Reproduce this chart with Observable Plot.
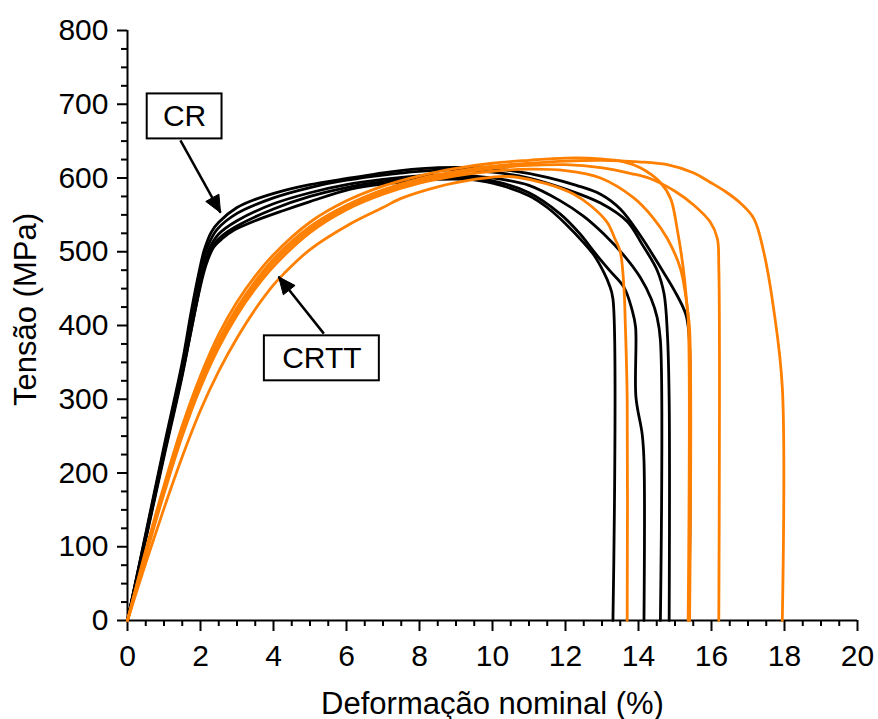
<!DOCTYPE html>
<html>
<head>
<meta charset="utf-8">
<script src="https://cdn.jsdelivr.net/npm/d3@7"></script>
<script src="https://cdn.jsdelivr.net/npm/@observablehq/plot@0.6"></script>
<style>
  body { margin: 0; background: #fff; }
</style>
</head>
<body>
<div id="chart"></div>
<script>
// Tensile curves, [strain (%), stress (MPa)], cold-rolled (CR) specimens
const crCurve1 = [[0,0],[0.5,110],[1.0,222],[1.5,332],[1.91,434],[2.15,482],[2.36,506],[2.6,518],[2.91,529],[3.5,542],[4.28,556],[5,568],[6.11,585],[7,592],[7.48,594],[8.5,598],[9.3,598],[10,593],[11,576],[11.5,560],[12,538],[12.5,512],[12.8,494],[13.05,472],[13.2,455],[13.3,436],[13.3,0]];
const crCurve2 = [[0,0],[0.5,112],[1.0,225],[1.5,335],[1.9,432],[2.1,480],[2.3,506],[2.6,522],[3,535],[4,558],[5,575],[6,587],[7,595],[8,600],[9,601],[10,596],[11,580],[11.86,551],[12.4,524],[12.78,500],[13.2,475],[13.6,452],[13.83,420],[13.92,398],[13.93,303],[14.1,253],[14.15,217],[14.15,0]];
const crCurve3 = [[0,0],[0.5,114],[1.0,228],[1.5,340],[1.85,428],[2.05,475],[2.25,505],[2.5,524],[3,542],[4,565],[5,580],[6,591],[7,598],[8,603],[9,604],[10,600],[11,590],[11.86,569],[12.5,548],[13.05,524],[13.6,495],[14.05,465],[14.35,436],[14.51,411],[14.6,380],[14.6,0]];
const crCurve4 = [[0,0],[0.5,116],[1.0,232],[1.5,345],[1.8,428],[2.0,477],[2.2,508],[2.45,530],[3,552],[4,573],[5,587],[6,597],[7,604],[8,609],[9,611],[10,608],[11,600],[12,585],[12.96,566],[13.69,541],[14.1,510],[14.51,475],[14.7,443],[14.79,390],[14.84,300],[14.84,0]];
const crCurve5 = [[0,0],[0.5,118],[1.0,236],[1.5,350],[1.75,420],[1.95,470],[2.1,502],[2.3,527],[2.5,540],[3,560],[3.5,571],[4.28,583],[5,591],[6.11,600],[7,607],[7.48,610],[8.5,614],[9.5,614],[10.5,610],[11.5,601],[12.3,590],[12.96,578],[13.5,558],[14.05,522],[14.6,479],[15.0,446],[15.29,416],[15.38,390],[15.38,0]];

// Tensile curves, cold-rolled and heat-treated (CRTT) specimens
const crttCurve1 = [[0,0],[0.5,78],[1,152],[1.5,222],[2,285],[2.5,338],[3,383],[3.5,422],[4,455],[4.28,470],[5,503],[6.11,538],[7,560],[7.48,572],[8.5,588],[9.5,598],[10.2,602],[10.67,601],[11.5,592],[12.23,578],[12.7,562],[13.14,540],[13.35,518],[13.5,500],[13.6,452],[13.64,400],[13.69,300],[13.69,0]];
const crttCurve2 = [[0,0],[0.5,88],[1,172],[1.5,250],[2,316],[2.5,370],[3,414],[3.5,450],[4,480],[5,526],[6,557],[7,578],[8,593],[9,603],[10,609],[11,612],[12,610],[12.96,600],[13.87,573],[14.4,546],[14.79,518],[15.15,477],[15.29,441],[15.36,410],[15.36,0]];
const crttCurve3 = [[0,0],[0.5,95],[1,183],[1.5,264],[2,332],[2.5,388],[3,432],[3.5,467],[4,496],[5,540],[6,569],[7,589],[8,603],[9,613],[10,620],[11,624],[12,627],[12.96,626],[13.6,622],[14.05,614],[14.6,594],[14.88,572],[15.06,531],[15.24,472],[15.33,427],[15.4,395],[15.4,0]];
const crttCurve4 = [[0,0],[0.5,90],[1,175],[1.5,254],[2,320],[2.5,375],[3,418],[3.5,455],[4,485],[5,530],[6,560],[7,581],[8,596],[9,606],[10,613],[11,617],[12,618],[12.96,614],[13.8,606],[14.33,599],[15,582],[15.52,563],[15.97,540],[16.16,518],[16.2,480],[16.2,0]];
const crttCurve5 = [[0,0],[0.5,92],[1,178],[1.5,258],[2,325],[2.5,380],[3,424],[3.5,460],[4,490],[5,534],[6,563],[7,584],[8,599],[9,609],[10,616],[11,620],[12,623],[13,624],[14,622],[14.79,618],[15.5,607],[15.97,594],[16.4,581],[16.79,566],[17.16,545],[17.43,500],[17.71,420],[17.94,316],[17.94,0]];

// Axis ticks
const xTicks = [0, 2, 4, 6, 8, 10, 12, 14, 16, 18, 20];
const yTicks = [0, 100, 200, 300, 400, 500, 600, 700, 800];

// Callout boxes (data coordinates) and their arrows
const boxLabels = ["CR", "CRTT"];
const boxX1 = [0.54, 3.75];
const boxX2 = [2.59, 6.90];
const boxY1 = [653, 325];
const boxY2 = [714, 386];
const arrowFromX = [1.45, 5.38];
const arrowFromY = [651, 389];
const arrowToX = [2.55, 4.14];
const arrowToY = [553, 466];

// Layout
const W = 878, H = 719;
const mL = 127, mR = 21, mT = 30, mB = 99;
const FONT = "'Liberation Sans', Arial, Helvetica, sans-serif";
const BLACK = "#000000";
const ORANGE = "#ff8000";

const groups = [
  {name: "CR", color: BLACK, curves: [crCurve1, crCurve2, crCurve3, crCurve4, crCurve5]},
  {name: "CRTT", color: ORANGE, curves: [crttCurve1, crttCurve2, crttCurve3, crttCurve4, crttCurve5]}
];

const rows = [];
for (const g of groups) {
  g.curves.forEach((c, i) => {
    for (const [strain, stress] of c) rows.push({strain, stress, series: `${g.name}-${i}`, group: g.name});
  });
}

const boxes = boxLabels.map((label, i) => ({
  label, x1: boxX1[i], x2: boxX2[i], y1: boxY1[i], y2: boxY2[i],
  cx: (boxX1[i] + boxX2[i]) / 2, cy: (boxY1[i] + boxY2[i]) / 2
}));
const arrows = boxLabels.map((label, i) => ({
  id: label, x1: arrowFromX[i], y1: arrowFromY[i], x2: arrowToX[i], y2: arrowToY[i]
}));

// Filled triangular arrowheads: the tip sits on the arrow end, the base is set back
// a fixed number of screen pixels along the shaft (converted back to data units).
const kx = (W - mL - mR) / 20, ky = (H - mT - mB) / 800;
const HEAD_LEN = 17, HEAD_WID = 15;
const heads = arrows.flatMap(a => {
  const dx = (a.x2 - a.x1) * kx, dy = -(a.y2 - a.y1) * ky;
  const n = Math.hypot(dx, dy), ux = dx / n, uy = dy / n;
  const bx = -ux * HEAD_LEN, by = -uy * HEAD_LEN;
  const px = -uy * HEAD_WID / 2, py = ux * HEAD_WID / 2;
  const pts = [[0, 0], [bx + px, by + py], [bx - px, by - py], [0, 0]];
  return pts.map(([ox, oy]) => ({id: a.id, x: a.x2 + ox / kx, y: a.y2 - oy / ky}));
});

const xMinor = d3.range(0, 20.01, 0.5).filter(v => v % 2 !== 0);
const yMinor = d3.range(0, 800.1, 25).filter(v => v % 100 !== 0);

const chart = Plot.plot({
  width: W,
  height: H,
  marginLeft: mL,
  marginRight: mR,
  marginTop: mT,
  marginBottom: mB,
  style: {fontFamily: FONT, color: "#000", background: "#fff", overflow: "visible"},
  x: {domain: [0, 20]},
  y: {domain: [0, 800]},
  marks: [
    Plot.axisX({ticks: xMinor, tickSize: 6, strokeWidth: 2, tickFormat: () => "", label: null}),
    Plot.axisY({ticks: yMinor, tickSize: 6, strokeWidth: 2, tickFormat: () => "", label: null}),
    Plot.axisX({ticks: xTicks, tickSize: 11, tickPadding: 13, strokeWidth: 2, fontSize: 30, label: null, tickFormat: d => String(d)}),
    Plot.axisY({ticks: yTicks, tickSize: 10, tickPadding: 9, strokeWidth: 2, fontSize: 30, label: null, tickFormat: d => String(d)}),
    Plot.ruleX([0], {stroke: BLACK, strokeWidth: 2}),
    Plot.ruleY([0], {stroke: BLACK, strokeWidth: 2}),
    Plot.line(rows.filter(d => d.group === "CR"), {x: "strain", y: "stress", z: "series", stroke: BLACK, strokeWidth: 2.8, curve: "catmull-rom", strokeLinejoin: "round"}),
    Plot.line(rows.filter(d => d.group === "CRTT"), {x: "strain", y: "stress", z: "series", stroke: ORANGE, strokeWidth: 2.8, curve: "catmull-rom", strokeLinejoin: "round"}),
    Plot.rect(boxes, {x1: "x1", x2: "x2", y1: "y1", y2: "y2", fill: "white", stroke: BLACK, strokeWidth: 2}),
    Plot.text(boxes, {x: "cx", y: "cy", text: "label", fontSize: 30, fill: BLACK, lineAnchor: "middle", textAnchor: "middle"}),
    Plot.link(arrows, {x1: "x1", y1: "y1", x2: "x2", y2: "y2", stroke: BLACK, strokeWidth: 2.5}),
    Plot.line(heads, {x: "x", y: "y", z: "id", fill: BLACK, stroke: BLACK, strokeWidth: 1, strokeLinejoin: "miter"}),
    Plot.text(["Tensão (MPa)"], {frameAnchor: "left", dx: -101, dy: -16, rotate: -90, fontSize: 31, fill: BLACK, lineAnchor: "middle", textAnchor: "middle"}),
    Plot.text(["Deformação nominal (%)"], {frameAnchor: "bottom", dy: 93, fontSize: 31, fill: BLACK, lineAnchor: "bottom", textAnchor: "middle"})
  ]
});

document.getElementById("chart").appendChild(chart);
</script>
</body>
</html>
